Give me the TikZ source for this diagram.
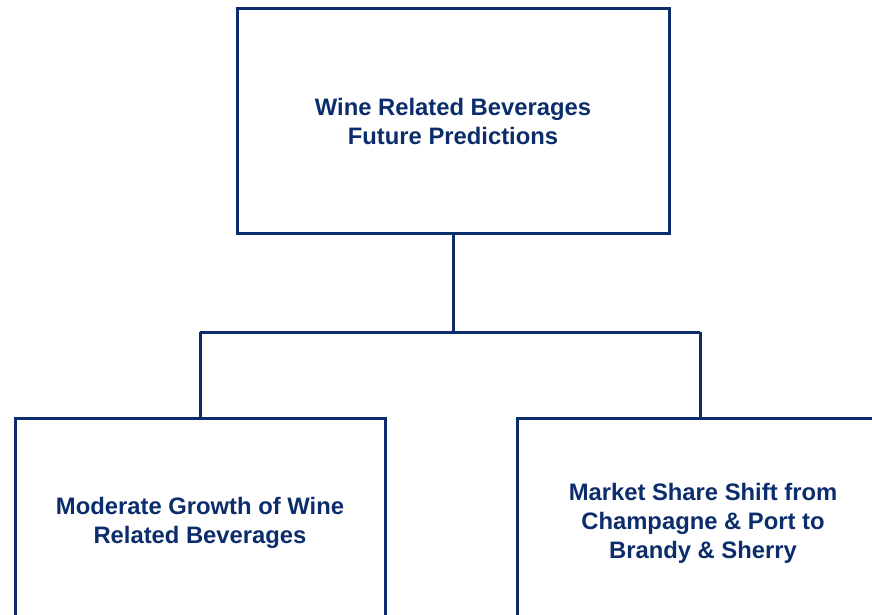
\documentclass[tikz,border=0pt]{standalone}
\usepackage{fontspec}
\setmainfont{Liberation Sans}
\definecolor{navy}{HTML}{0C2D6B}
\begin{document}
\begin{tikzpicture}[x=1pt,y=-1pt,
  boxstyle/.style={draw=navy, line width=3pt, fill=white, align=center,
    font=\fontsize{23.8}{29}\selectfont\bfseries, text=navy, inner sep=0pt},
  conn/.style={draw=navy, line width=3pt}]
\useasboundingbox (0,0) rectangle (872,614);
\clip (0,0) rectangle (872,614);
\node[boxstyle, minimum width=432pt, minimum height=225pt] (top) at (453,121)
  {Wine Related Beverages\\Future Predictions};
\node[boxstyle, minimum width=370pt, minimum height=210pt] (left) at (200,523)
  {Moderate Growth of Wine\\Related Beverages};
\node[boxstyle, minimum width=372pt, minimum height=210pt] (right) at (703,523)
  {Market Share Shift from\\Champagne \& Port to\\Brandy \& Sherry};
\coordinate (j) at (453,332);
\coordinate (hl) at (200,332);
\coordinate (hr) at (700,332);
\draw[conn] (top.south) -- (j);
\draw[conn] (hl) -- (hr);
\draw[conn] (hl) -- (left.north);
\draw[conn] (hr) -- (hr |- right.north);
\end{tikzpicture}
\end{document}
